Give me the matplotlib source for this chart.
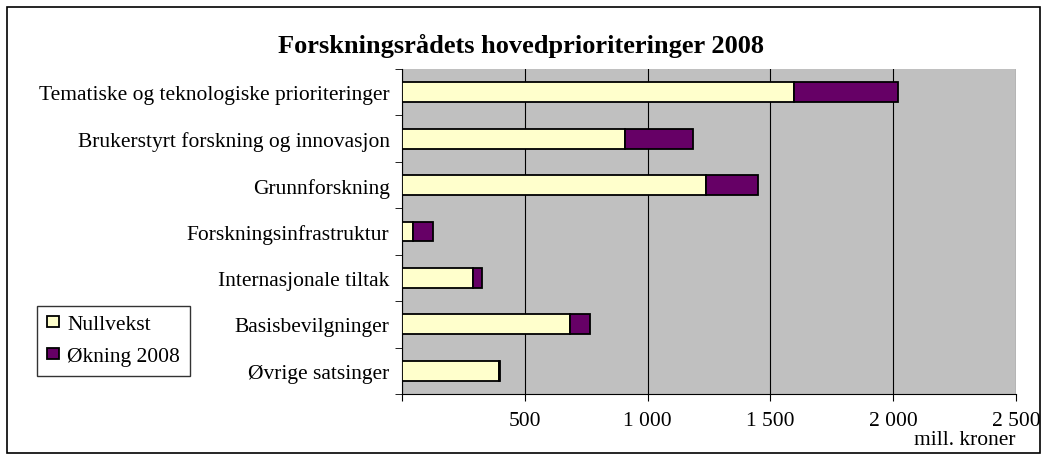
import matplotlib.pyplot as plt
import numpy as np
from matplotlib.patches import Rectangle
from matplotlib.ticker import FuncFormatter

categories = ["Tematiske og teknologiske prioriteringer",
              "Brukerstyrt forskning og innovasjon",
              "Grunnforskning",
              "Forskningsinfrastruktur",
              "Internasjonale tiltak",
              "Basisbevilgninger",
              "Øvrige satsinger"]
nullvekst = [1596, 908, 1238, 45, 289, 686, 395]
okning = [424, 277, 210, 80, 35, 80, 5]
series_names = ["Nullvekst", "Økning 2008"]

plt.rcParams["font.family"] = ["Liberation Serif", "DejaVu Serif"]
fs = 15.5

fig = plt.figure(figsize=(10.47, 4.56), dpi=100)
ax = fig.add_axes([402 / 1047, 1 - 395 / 456, (1016 - 402) / 1047, (395 - 70) / 456])

y = np.arange(len(categories))
h = 0.43
ax.barh(y, nullvekst, height=h, color="#FFFFCC", edgecolor="black", linewidth=1.3,
        label=series_names[0], zorder=3)
ax.barh(y, okning, left=nullvekst, height=h, color="#660066", edgecolor="black",
        linewidth=1.3, label=series_names[1], zorder=3)

ax.set_facecolor("#C0C0C0")
ax.set_xlim(0, 2500)
ax.set_ylim(len(categories) - 0.5, -0.5)
ax.set_xticks([0, 500, 1000, 1500, 2000, 2500])
ax.xaxis.set_major_formatter(FuncFormatter(lambda v, p: "" if v == 0 else f"{int(v):,}".replace(",", " ")))
ax.xaxis.grid(True, color="black", linewidth=0.8, zorder=0)
ax.set_yticks(y)
ax.set_yticklabels(categories)
ax.set_yticks(np.arange(-0.5, len(categories), 1), minor=True)
ax.tick_params(axis="y", which="major", length=0, pad=9, labelsize=fs)
ax.tick_params(axis="y", which="minor", length=5, direction="out")
ax.tick_params(axis="x", length=5, direction="out", labelsize=fs, pad=7)
for s in ["top", "right"]:
    ax.spines[s].set_visible(False)
for s in ["left", "bottom"]:
    ax.spines[s].set_color("black")

fig.text(521 / 1047, 1 - 46 / 456, "Forskningsrådets hovedprioriteringer 2008",
         ha="center", va="center", fontsize=19, fontweight="bold")
fig.text(1016 / 1047, 1 - 441 / 456, "mill. kroner", ha="right", va="center", fontsize=fs)

leg = fig.legend(loc="lower left", bbox_to_anchor=(37 / 1047, 1 - 377 / 456),
                 borderaxespad=0, fontsize=fs, frameon=True, fancybox=False,
                 edgecolor="black", handlelength=0.55, handleheight=0.4,
                 handletextpad=0.4, labelspacing=0.6, borderpad=0.45)
leg.get_frame().set_linewidth(1.0)

fig.patches.append(Rectangle((7 / 1047, 2 / 456), 1033 / 1047, 446 / 456,
                             transform=fig.transFigure, fill=False,
                             edgecolor="black", linewidth=1.2))

fig.savefig("out.png", dpi=100)
